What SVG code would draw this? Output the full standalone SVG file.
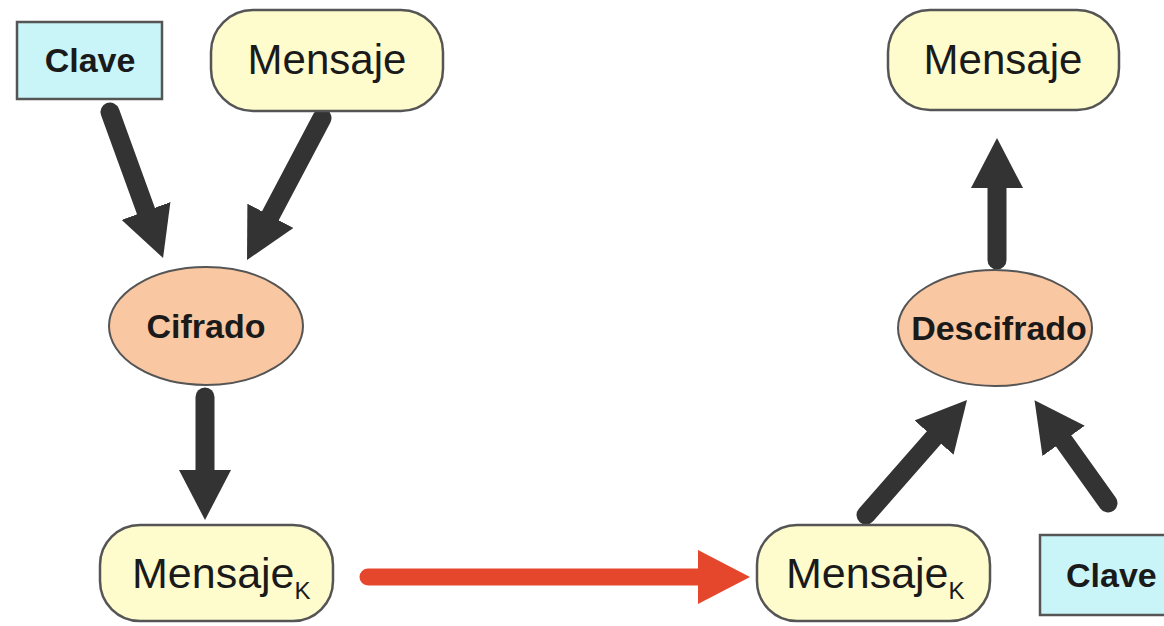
<svg xmlns="http://www.w3.org/2000/svg" width="1164" height="626" viewBox="0 0 1164 626">
<style>
.key{fill:#c9f5f9;stroke:#555;stroke-width:2.5}
.msg{fill:#fefccd;stroke:#555;stroke-width:2.5}
.op{fill:#f9c7a2;stroke:#555;stroke-width:2}
.t{font-family:"Liberation Sans",Arial,sans-serif;fill:#1a1a1a}
.m{font-size:42px}
.mk{font-size:43px}
.b{font-size:34px;font-weight:bold}
.arr{stroke:#333;stroke-width:19;fill:none;stroke-linecap:round;marker-end:url(#hd)}
.red{stroke:#e5472d;stroke-width:17;fill:none;stroke-linecap:round;marker-end:url(#hr)}
</style>
<defs>
<marker id="hd" markerUnits="userSpaceOnUse" markerWidth="52" markerHeight="52" refX="10" refY="26" orient="auto" viewBox="0 0 52 52">
<path d="M0,0 L50,26 L0,52 z" fill="#333"/>
</marker>
<marker id="hr" markerUnits="userSpaceOnUse" markerWidth="54" markerHeight="54" refX="12" refY="27" orient="auto" viewBox="0 0 54 54">
<path d="M0,0 L52,27 L0,54 z" fill="#e5472d"/>
</marker>
</defs>
<rect width="1164" height="626" fill="#fff"/>
<g id="connectors">
<line class="arr" x1="110" y1="112" x2="149.4" y2="220.4"/>
<line class="arr" x1="322" y1="118" x2="265.7" y2="224.6"/>
<line class="arr" x1="205" y1="397" x2="205" y2="480"/>
<line class="arr" x1="866" y1="515" x2="940.6" y2="430.1"/>
<line class="arr" x1="1108" y1="503" x2="1057.8" y2="432.8"/>
<line class="arr" x1="997" y1="260" x2="997" y2="178"/>
<line class="red" x1="368" y1="577" x2="710" y2="577"/>
</g>
<g id="clave1">
<rect class="key" x="17" y="22" width="145" height="77"/>
<text class="t b" x="90" y="72" text-anchor="middle">Clave</text>
</g>
<g id="mensaje1">
<rect class="msg" x="211" y="10" width="232" height="101" rx="42"/>
<text class="t m" x="327" y="74" text-anchor="middle">Mensaje</text>
</g>
<g id="cifrado">
<ellipse class="op" cx="206" cy="326" rx="97" ry="59"/>
<text class="t b" x="206" y="338" text-anchor="middle">Cifrado</text>
</g>
<g id="mensajek1">
<rect class="msg" x="100" y="525" width="233" height="96" rx="40"/>
<text class="t mk" x="132" y="588">Mensaje<tspan font-size="24" dy="11">K</tspan></text>
</g>
<g id="mensajek2">
<rect class="msg" x="757" y="525" width="233" height="96" rx="40"/>
<text class="t mk" x="786" y="588">Mensaje<tspan font-size="24" dy="11">K</tspan></text>
</g>
<g id="descifrado">
<ellipse class="op" cx="995" cy="328" rx="97" ry="58"/>
<text class="t b" x="999" y="340" text-anchor="middle">Descifrado</text>
</g>
<g id="mensaje2">
<rect class="msg" x="888" y="10" width="231" height="100" rx="42"/>
<text class="t m" x="1003" y="74" text-anchor="middle">Mensaje</text>
</g>
<g id="clave2">
<rect class="key" x="1040" y="535" width="140" height="80"/>
<text class="t b" x="1066" y="587">Clave</text>
</g>
</svg>
